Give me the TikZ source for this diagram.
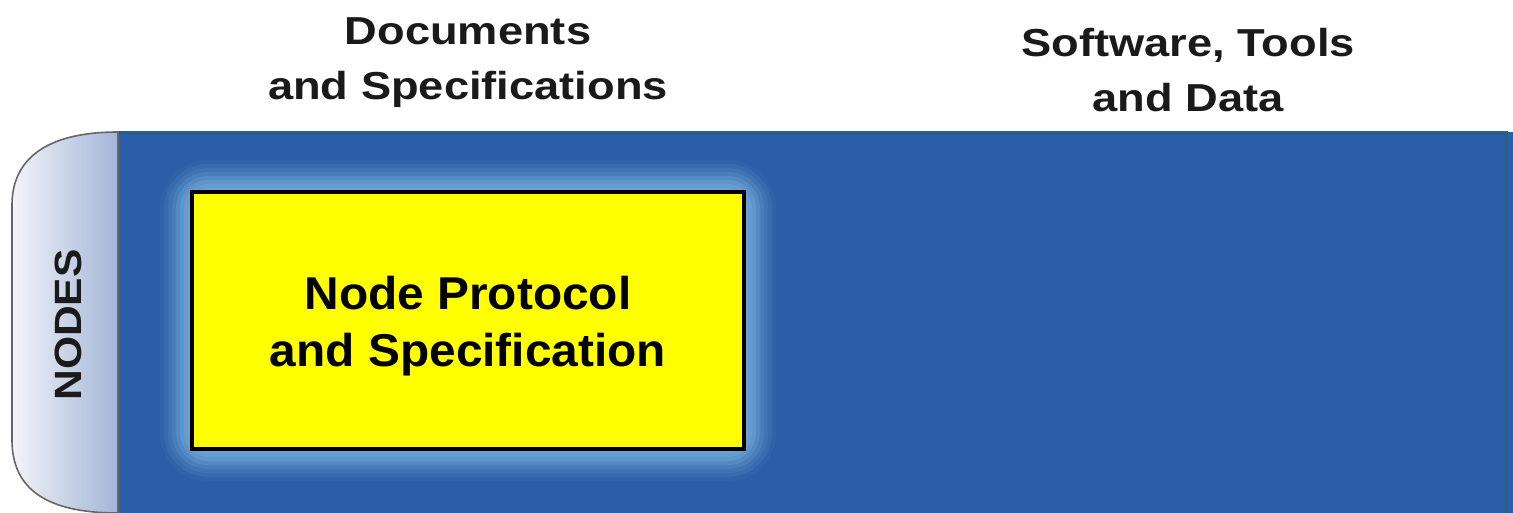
\documentclass[tikz,border=0pt]{standalone}
\usepackage{fontspec}
\setmainfont{Liberation Sans}
\newfontfamily\hdrfont[FakeStretch=1.16]{Liberation Sans}
\newfontfamily\boxfont[FakeStretch=1.04]{Liberation Sans}
\newfontfamily\tabfont[FakeStretch=1.12]{Liberation Sans}
\definecolor{panelblue}{HTML}{2A5EA6}
\definecolor{paneledge}{HTML}{2C5B8E}
\definecolor{glowblue}{HTML}{6FA6D6}
\definecolor{tableft}{HTML}{F2F4F9}
\definecolor{tabright}{HTML}{A3B5D6}
\definecolor{boxyellow}{HTML}{FFFF00}
\definecolor{inkgray}{HTML}{1A1A1A}
\tikzset{
  header/.style={font=\hdrfont\fontsize{19.5}{27.5}\selectfont\bfseries, text=inkgray, align=center},
  boxlabel/.style={font=\boxfont\fontsize{23}{28.5}\selectfont\bfseries, text=black, align=center},
  tablabel/.style={font=\tabfont\fontsize{19}{22}\selectfont\bfseries, text=inkgray, rotate=90},
}
\begin{document}
\begin{tikzpicture}[x=0.5pt,y=-0.5pt]
  \useasboundingbox (0,0) rectangle (1513,513);

  % column headers
  \node[header] (hdoc) at (468,63) {Documents\\and Specifications};
  \node[header] (hsw) at (1188,70) {Software, Tools\\and Data};

  % blue row panel
  \fill[panelblue] (118,132) rectangle (1513,513);
  \draw[paneledge, line width=2] (118,133) -- (1506,133) -- (1506,513);

  % row tab on the left
  \shade[left color=tableft, right color=tabright, draw=gray!80!black, line width=0.8]
    (118,132) .. controls (45,132) and (12,160) .. (12,205)
    -- (12,440) .. controls (12,488) and (45,513) .. (118,513) -- cycle;
  \node[tablabel] (tab) at (68,325) {NODES};

  % soft glow around the box
  \foreach \w/\o in {32/0.08, 28/0.12, 24/0.16, 20/0.22, 16/0.3, 12/0.4, 8/0.5, 4/0.6}
    \draw[glowblue, line width=\w, opacity=\o, rounded corners=8] (192,192) rectangle (744,449);

  % yellow box
  \node[draw=black, line width=2.2, fill=boxyellow, minimum width=276pt, minimum height=128.5pt,
        inner sep=0pt, boxlabel] (np) at (468,320.5) {};
  \node[boxlabel] (nplabel) at (468,326) {Node Protocol\\and Specification};
\end{tikzpicture}
\end{document}
